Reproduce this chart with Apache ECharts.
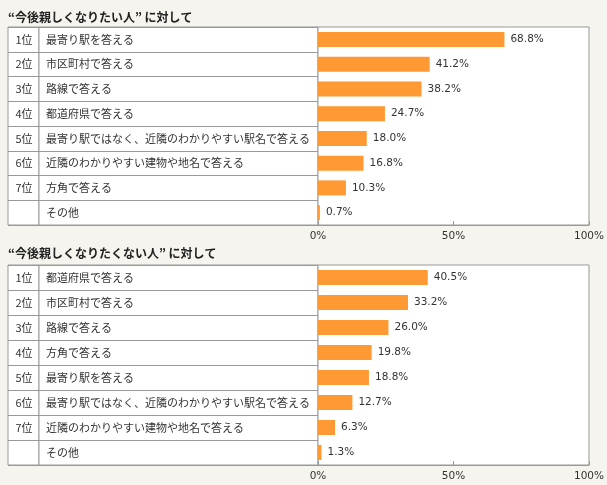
<!DOCTYPE html>
<html>
<head>
<meta charset="utf-8">
<script src="https://cdn.jsdelivr.net/npm/echarts@6/dist/echarts.min.js"></script>
<style>
  html, body { margin: 0; padding: 0; background: #f5f4ee; }
  #main { width: 607px; height: 485px; }
</style>
</head>
<body>
<div id="main"></div>
<script>
// 順位
var ranks = ['1位', '2位', '3位', '4位', '5位', '6位', '7位', ''];

// 今後親しくなりたい人
var likeLabels = ['最寄り駅を答える', '市区町村で答える', '路線で答える', '都道府県で答える',
  '最寄り駅ではなく、近隣のわかりやすい駅名で答える', '近隣のわかりやすい建物や地名で答える', '方角で答える', 'その他'];
var likeValues = [68.8, 41.2, 38.2, 24.7, 18.0, 16.8, 10.3, 0.7];

// 今後親しくなりたくない人
var dislikeLabels = ['都道府県で答える', '市区町村で答える', '路線で答える', '方角で答える',
  '最寄り駅を答える', '最寄り駅ではなく、近隣のわかりやすい駅名で答える', '近隣のわかりやすい建物や地名で答える', 'その他'];
var dislikeValues = [40.5, 33.2, 26.0, 19.8, 18.8, 12.7, 6.3, 1.3];

var titles = ['“今後親しくなりたい人” に対して', '“今後親しくなりたくない人” に対して'];
var lineColor = '#999';
var numFont = 'DejaVu Sans';

var myChart = echarts.init(document.getElementById('main'));

// テーブル1つ分 (順位列・項目列・グラフ) を作る
function buildTable(top, height, labels, values, option) {
  var g = option.grid.length;
  option.grid.push(
    { left: 8, top: top, width: 31, height: height, show: true, backgroundColor: '#fff', borderColor: lineColor, borderWidth: 1 },
    { left: 39, top: top, width: 279, height: height, show: true, backgroundColor: '#fff', borderColor: lineColor, borderWidth: 1 },
    { left: 318, top: top, width: 274, height: height, show: true, backgroundColor: '#fff', borderColor: lineColor, borderWidth: 1 }
  );
  // 順位列・項目列
  [ranks, labels].forEach(function (arr, k) {
    option.xAxis.push({ gridIndex: g + k, type: 'value', min: 0, max: 1, show: false });
    option.yAxis.push({
      gridIndex: g + k,
      type: 'category',
      inverse: true,
      data: arr,
      axisLine: { show: false },
      axisTick: { show: false },
      splitLine: { show: true, lineStyle: { color: lineColor, width: 1 } },
      axisLabel: {
        inside: true,
        align: k === 0 ? 'center' : 'left',
        margin: k === 0 ? 16 : 7,
        fontSize: 11,
        color: '#333'
      }
    });
  });
  // グラフ
  option.xAxis.push({
    gridIndex: g + 2,
    type: 'value',
    min: 0,
    max: 100,
    interval: 50,
    axisLine: { show: true, lineStyle: { color: lineColor } },
    axisTick: { show: true, inside: true, length: 4, lineStyle: { color: lineColor } },
    splitLine: { show: false },
    axisLabel: { formatter: '{value}%', fontSize: 10.5, fontFamily: numFont, color: '#333', margin: 6 }
  });
  option.yAxis.push({
    gridIndex: g + 2,
    type: 'category',
    inverse: true,
    data: labels,
    show: false
  });
  option.series.push({
    type: 'bar',
    xAxisIndex: g + 2,
    yAxisIndex: g + 2,
    data: values,
    barWidth: 15,
    itemStyle: { color: '#ff9933' },
    label: {
      show: true,
      position: 'right',
      distance: 6,
      fontSize: 10.5,
      fontFamily: numFont,
      color: '#333',
      formatter: function (p) { return p.value.toFixed(1) + '%'; }
    }
  });
}

var option = {
  backgroundColor: '#f5f4ee',
  animation: false,
  textStyle: { fontFamily: 'Noto Sans CJK JP' },
  title: [
    { text: titles[0], left: 3, top: 6, textStyle: { fontSize: 12, fontWeight: 'bold', color: '#222' } },
    { text: titles[1], left: 3, top: 242, textStyle: { fontSize: 12, fontWeight: 'bold', color: '#222' } }
  ],
  grid: [],
  xAxis: [],
  yAxis: [],
  series: []
};

buildTable(27, 198, likeLabels, likeValues, option);
buildTable(265, 200, dislikeLabels, dislikeValues, option);

myChart.setOption(option);
</script>
</body>
</html>
